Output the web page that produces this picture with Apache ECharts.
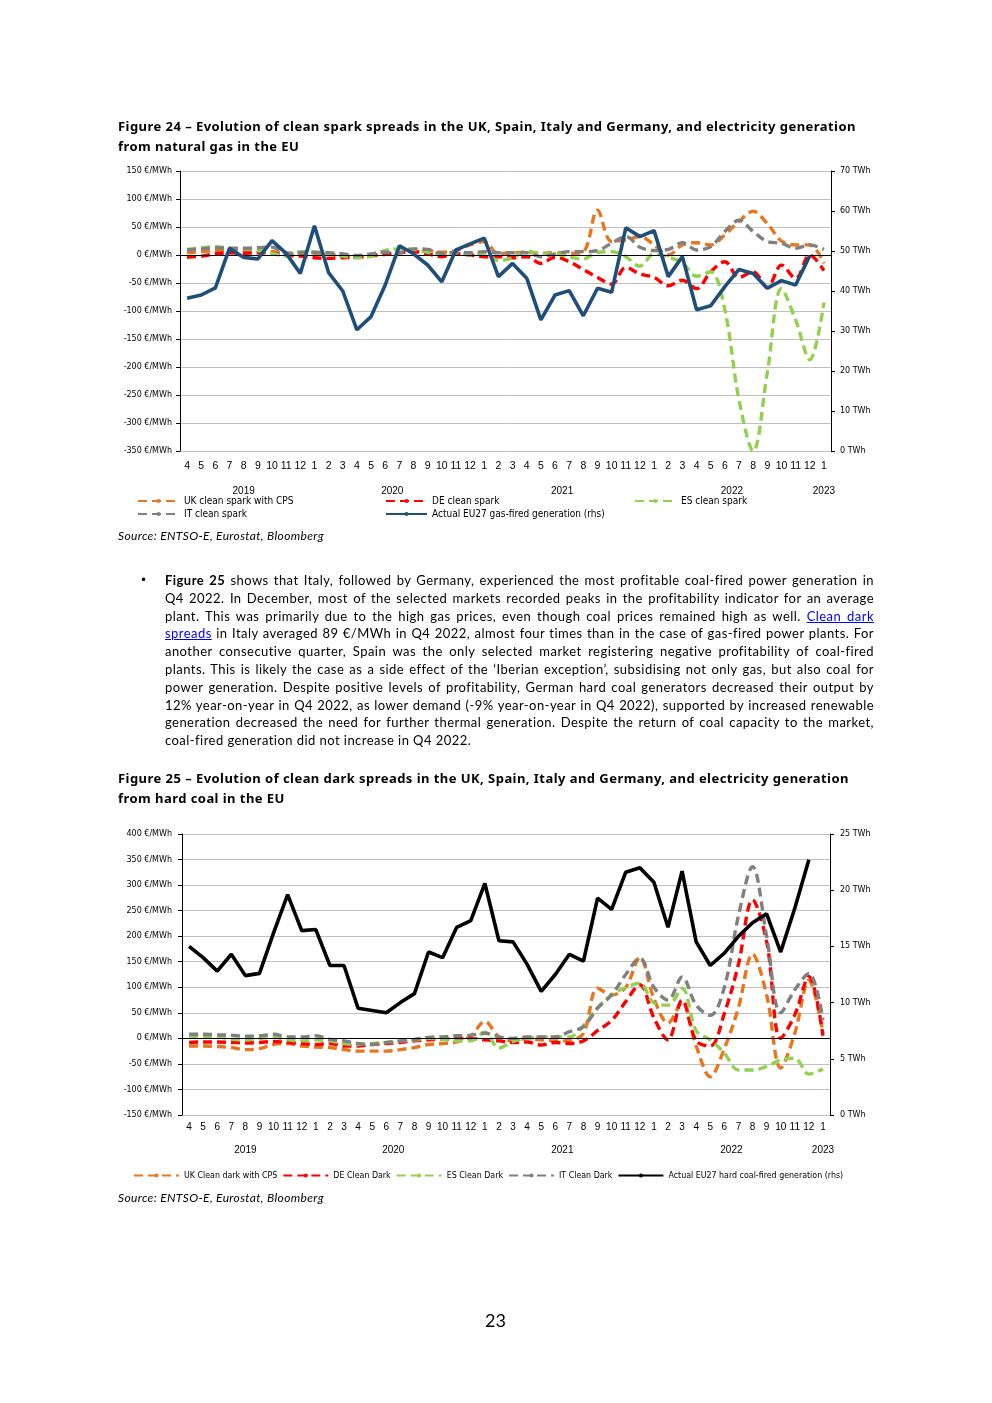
<!DOCTYPE html>
<html>
<head>
<meta charset="utf-8">
<script src="https://cdn.jsdelivr.net/npm/echarts@6/dist/echarts.min.js"></script>
<style>
  html, body { margin:0; padding:0; background:#fff; }
  #page { position:relative; width:992px; height:1403px; overflow:hidden; }
  #chart { position:absolute; left:0; top:0; width:992px; height:1403px; }
  .t { position:absolute; color:#000; white-space:nowrap; }
  .title { font-family:"Noto Sans", "Open Sans", sans-serif; font-weight:bold; font-size:13px; letter-spacing:0.45px; line-height:20px; left:118px; }
  .src { font-family:"Lato","Open Sans",sans-serif; font-style:italic; font-size:12px; letter-spacing:0.35px; left:118px; }
  .para { left:165px; width:709px; font-family:"Lato","Open Sans",sans-serif; font-size:13px; letter-spacing:0.45px; line-height:17.8px; }
  .para div { text-align:justify; text-align-last:justify; white-space:nowrap; }
  .para div.last { text-align-last:left; }
  .para a { color:#0000ee; text-decoration:underline; }
</style>
</head>
<body>
<div id="page">
  <div id="chart"></div>
  <div class="t title" style="top:116px;">Figure 24 – Evolution of clean spark spreads in the UK, Spain, Italy and Germany, and electricity generation<br>from natural gas in the EU</div>
  <div class="t src" style="top:528px;">Source: ENTSO-E, Eurostat, Bloomberg</div>
  <div class="t" style="left:140px; top:572px; font-family:'DejaVu Sans',sans-serif; font-size:12px; line-height:17.8px;">•</div>
  <div class="t para" style="top:572px;">
    <div><b>Figure 25</b> shows that Italy, followed by Germany, experienced the most profitable coal-fired power generation in</div>
    <div>Q4 2022. In December, most of the selected markets recorded peaks in the profitability indicator for an average</div>
    <div>plant. This was primarily due to the high gas prices, even though coal prices remained high as well. <a>Clean dark</a></div>
    <div><a>spreads</a> in Italy averaged 89 €/MWh in Q4 2022, almost four times than in the case of gas-fired power plants. For</div>
    <div>another consecutive quarter, Spain was the only selected market registering negative profitability of coal-fired</div>
    <div>plants. This is likely the case as a side effect of the ‘Iberian exception’, subsidising not only gas, but also coal for</div>
    <div>power generation. Despite positive levels of profitability, German hard coal generators decreased their output by</div>
    <div>12% year-on-year in Q4 2022, as lower demand (-9% year-on-year in Q4 2022), supported by increased renewable</div>
    <div>generation decreased the need for further thermal generation. Despite the return of coal capacity to the market,</div>
    <div class="last">coal-fired generation did not increase in Q4 2022.</div>
  </div>
  <div class="t title" style="top:769px; line-height:19.5px;">Figure 25 – Evolution of clean dark spreads in the UK, Spain, Italy and Germany, and electricity generation<br>from hard coal in the EU</div>
  <div class="t src" style="top:1190px;">Source: ENTSO-E, Eurostat, Bloomberg</div>
  <div class="t" style="left:485px; top:1309px; font-family:'Lato','Open Sans',sans-serif; font-size:18px;">23</div>
</div>
<script>
// ---------- data ----------
const months = ['4','5','6','7','8','9','10','11','12',
  '1','2','3','4','5','6','7','8','9','10','11','12',
  '1','2','3','4','5','6','7','8','9','10','11','12',
  '1','2','3','4','5','6','7','8','9','10','11','12',
  '1'];
const years = ['2019','2020','2021','2022','2023'];

// Figure 24 (€/MWh, lhs) and gas generation (TWh, rhs)
const ukSpark = [4,6,8,9,7,5,6,3,1,2,1,-1,-3,-2,1,4,5,8,5,8,18,24,2,4,5,3,4,3,6,80,24,27,33,18,0,18,22,18,36,60,78,56,25,18,18,-15];
const deSpark = [-4,-2,2,4,3,4,3,-1,-2,-5,-6,-5,-4,-1,2,4,6,2,-3,2,0,-3,-3,-5,-3,-15,-4,-12,-26,-40,-52,-22,-34,-40,-55,-45,-60,-30,-12,-40,-30,-58,-18,-42,0,-28];
const esSpark = [10,13,15,12,11,8,3,-2,6,5,2,-2,-5,-2,8,11,10,5,2,4,0,3,-10,-5,7,2,2,-4,-7,5,6,-3,-20,2,-4,-14,-38,-30,-98,-259,-350,-210,-60,-116,-187,-85];
const itSpark = [9,11,13,12,12,13,14,3,4,5,4,2,-1,2,5,4,11,10,3,5,4,6,4,4,4,-3,2,6,6,8,21,33,14,8,10,22,9,15,42,62,42,24,21,12,18,10];
const gasGen = [38.2,39,40.8,50.7,48.4,48,52.6,49.4,44.4,56.3,44.6,40,30.3,33.6,41.5,51.3,49.3,46.5,42.3,50.3,51.8,53.2,43.6,46.9,43.2,32.8,39,40.1,33.8,40.7,39.7,55.8,53.6,55.1,43.6,48.6,35.3,36.3,41.1,45.4,44.4,40.7,42.6,41.5,48.8,null];

// Figure 25 (€/MWh, lhs) and hard coal generation (TWh, rhs)
const ukDark = [-15,-15,-16,-18,-22,-20,-12,-10,-15,-17,-18,-22,-25,-25,-25,-22,-18,-12,-10,-7,5,33,3,-5,0,-3,-5,-4,10,98,85,100,158,78,30,70,-15,-75,-20,60,165,85,-58,10,114,10];
const deDark = [-8,-7,-7,-8,-9,-8,-6,-8,-10,-12,-10,-15,-15,-12,-10,-8,-5,-3,-2,0,0,-3,-5,-8,-7,-13,-8,-10,-5,15,35,72,105,40,-3,75,-5,-15,49,145,271,190,0,46,121,5];
const esDark = [2,3,3,-2,-3,0,2,-3,-5,-3,-5,-10,-12,-10,-8,-5,-3,0,-2,-5,-5,12,-19,-6,0,2,3,3,25,60,85,100,108,69,65,98,15,-3,-29,-62,-62,-55,-42,-39,-70,-60];
const itDark = [8,8,7,6,4,5,8,3,3,5,-2,-5,-10,-12,-8,-5,-2,2,3,5,6,10,3,0,3,3,3,13,23,59,85,125,157,100,75,120,65,45,100,240,336,200,50,95,127,36];
const coalGen = [15.0,14.0,12.8,14.3,12.4,12.6,16.2,19.6,16.4,16.5,13.3,13.3,9.5,9.3,9.1,10.0,10.8,14.5,14.0,16.7,17.3,20.6,15.5,15.4,13.4,11.0,12.5,14.3,13.7,19.3,18.3,21.6,22.0,20.7,16.7,21.7,15.4,13.3,14.4,15.9,17.1,17.9,14.5,18.4,22.7,null];

// ---------- helpers ----------
const groups = [];
months.forEach((m, i) => { if (i === 0 || m === '1') groups.push([i, i]); else groups[groups.length - 1][1] = i; });
const yearCenters = groups.map(g => (g[0] + g[1]) / 2);
function yearFmt(v) {
  for (let k = 0; k < yearCenters.length; k++) if (Math.abs(v - yearCenters[k]) < 0.01) return years[k];
  return '';
}
const C = { uk:'#E8761E', de:'#FF0000', es:'#92D050', it:'#808080', gas:'#1F4E79', coal:'#000000' };
const axisFont = { fontFamily:'DejaVu Sans', fontSize:8, color:'#000' };
const legFont = { fontFamily:"'Liberation Sans Narrow','DejaVu Sans Condensed','Roboto Condensed','Liberation Sans',sans-serif", fontSize:10, color:'#000' };
const dash = [9, 5];
const zeroLine = { silent:true, symbol:'none', label:{show:false}, lineStyle:{color:'#000', width:1, type:'solid'}, data:[{yAxis:0}] };

function catAxis(gi, margin, fs) {
  return { gridIndex:gi, type:'category', data:months, boundaryGap:true,
    axisLine:{show:false}, axisTick:{show:false}, splitLine:{show:false},
    axisLabel:{interval:0, margin:margin, fontFamily:'Liberation Sans', fontSize:fs, color:'#000'} };
}
function yearAxis(gi, offset) {
  return { gridIndex:gi, type:'value', min:-0.5, max:months.length - 0.5, interval:0.5, position:'bottom', offset:offset,
    axisLine:{show:false, onZero:false}, axisTick:{show:false}, splitLine:{show:false},
    axisLabel:{formatter:yearFmt, margin:8, fontFamily:'Liberation Sans', fontSize:10, color:'#000', showMinLabel:true, showMaxLabel:true} };
}
function leftAxis(gi, min, max, margin) {
  return { gridIndex:gi, type:'value', min:min, max:max, interval:50, position:'left',
    axisLine:{show:true, onZero:false, lineStyle:{color:'#000', width:1}}, axisTick:{show:true, length:4, lineStyle:{color:'#000'}},
    splitLine:{show:true, lineStyle:{color:'#bfbfbf', width:1}},
    axisLabel:Object.assign({formatter:'{value} €/MWh', margin:margin}, axisFont) };
}
function rightAxis(gi, max, interval, margin) {
  return { gridIndex:gi, type:'value', min:0, max:max, interval:interval, position:'right',
    axisLine:{show:true, onZero:false, lineStyle:{color:'#000', width:1}}, axisTick:{show:true, length:4, lineStyle:{color:'#000'}},
    splitLine:{show:false},
    axisLabel:Object.assign({formatter:'{value} TWh', margin:margin}, axisFont) };
}
function dashed(name, data, color, xi, yi, extra) {
  return Object.assign({ name, type:'line', data, xAxisIndex:xi, yAxisIndex:yi, symbol:'none', smooth:0.35,
    lineStyle:{color, width:3.4, type:dash}, itemStyle:{color} }, extra || {});
}
function solid(name, data, color, xi, yi) {
  return { name, type:'line', data, xAxisIndex:xi, yAxisIndex:yi, symbol:'none', smooth:false, connectNulls:false,
    lineStyle:{color, width:3.6, type:'solid'}, itemStyle:{color}, z:5 };
}
function leg(name, left, top, w) {
  return { data:[name], left:left, top:top, orient:'horizontal', itemWidth:w || 41, itemHeight:5, padding:0,
    textStyle:legFont, selectedMode:false };
}

const chart = echarts.init(document.getElementById('chart'), null, {renderer:'canvas'});
chart.setOption({
  animation:false,
  backgroundColor:'transparent',
  grid:[
    { left:180, top:171, width:651, height:280 },
    { left:182, top:834, width:648, height:281 }
  ],
  xAxis:[ catAxis(0, 10, 10.5), yearAxis(0, 27), catAxis(1, 7, 10), yearAxis(1, 22) ],
  yAxis:[ leftAxis(0, -350, 150, 8), rightAxis(0, 70, 10, 9), leftAxis(1, -150, 400, 10), rightAxis(1, 25, 5, 10) ],
  legend:[
    leg('UK clean spark with CPS', 137, 496),
    leg('DE clean spark', 385, 496),
    leg('ES clean spark', 634, 496),
    leg('IT clean spark', 137, 509),
    leg('Actual EU27 gas-fired generation (rhs)', 385, 509),
    { data:['UK Clean dark with CPS','DE Clean Dark','ES Clean Dark','IT Clean Dark','Actual EU27 hard coal-fired generation (rhs)'],
      left:133, top:1171, itemWidth:45, itemHeight:5, itemGap:5, padding:0, selectedMode:false,
      textStyle:Object.assign({}, legFont, {fontSize:8.8}) }
  ],
  series:[
    dashed('UK clean spark with CPS', ukSpark, C.uk, 0, 0, { markLine:zeroLine }),
    dashed('DE clean spark', deSpark, C.de, 0, 0),
    dashed('ES clean spark', esSpark, C.es, 0, 0),
    dashed('IT clean spark', itSpark, C.it, 0, 0),
    solid('Actual EU27 gas-fired generation (rhs)', gasGen, C.gas, 0, 1),
    dashed('UK Clean dark with CPS', ukDark, C.uk, 2, 2, { markLine:zeroLine }),
    dashed('DE Clean Dark', deDark, C.de, 2, 2),
    dashed('ES Clean Dark', esDark, C.es, 2, 2),
    dashed('IT Clean Dark', itDark, C.it, 2, 2),
    solid('Actual EU27 hard coal-fired generation (rhs)', coalGen, C.coal, 2, 3)
  ]
});
</script>
</body>
</html>
